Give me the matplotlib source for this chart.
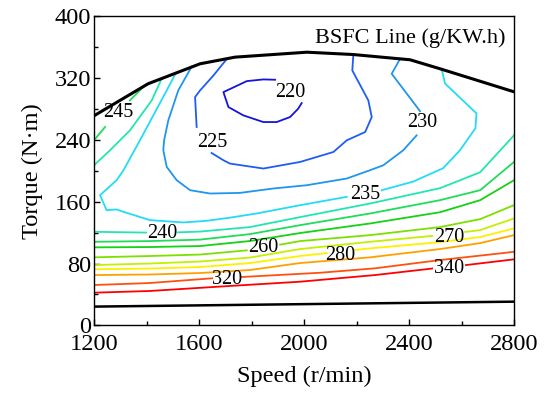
import numpy as np
import matplotlib
matplotlib.use("Agg")
import matplotlib.pyplot as plt

plt.rcParams['font.family'] = ['Liberation Serif', 'DejaVu Serif']
plt.rcParams['mathtext.fontset'] = 'stix'

nan = np.nan

# ---- data (speed in r/min, torque in N.m) ----
max_torque_speed = [1200, 1406, 1604, 1737, 2011, 2187, 2404, 2518, 2800]
max_torque = [271, 312.4, 338.2, 346.8, 353.2, 350.2, 343.4, 331.8, 302]

min_line_speed = [1200, 2800]
min_line_torque = [24.3, 30.7]

bsfc_levels = [220, 225, 230, 235, 240, 245, 250, 260, 270, 280, 300, 320, 340]

c220_s = [1890, 1845, 1782, 1693, 1712, 1769, 1845, 1896, 1947, 1978, 1991]
c220_t = [317.6, 318, 315.8, 301.6, 282.3, 271.5, 262.9, 262.9, 269.4, 280.2, 287.4]

c225_s = [1706, 1655, 1604, 1585, 1591, nan, 1648, 1693, 1718, 1845, 1985, 2112, 2163, 2233, 2258, 2245, 2184, 2188]
c225_t = [344.5, 323.1, 303.8, 295.2, 256.5, nan, 222.9, 213.5, 209.2, 202.8, 211.3, 224.2, 239.3, 250, 269.4, 290.9, 329.6, 350.2]

c230_s = [1572, 1521, 1483, 1467, 1464, 1477, 1515, 1566, 1642, 1756, 1883, 2010, 2163, 2252, 2302, 2378, 2429, nan, 2442, 2334, 2366]
c230_t = [334.5, 303.8, 265.1, 239.3, 226.4, 204.9, 187.7, 174.8, 170.5, 171.3, 177, 181.2, 189.9, 200.7, 207, 226.4, 245.7, nan, 277, 325.3, 344.6]

c235_s = [1512, 1477, 1375, 1312, 1286, 1223, 1248, 1286, 1312, 1413, 1540, 1629, 1718, 1820, 1985, 2163, nan, 2296, 2415, 2530, 2594, 2653, 2657, 2537, 2525]
c235_t = [326.5, 303.8, 239.3, 200.4, 187.7, 168.3, 149.0, 149.9, 146.9, 136.1, 133.1, 135.2, 139.3, 144.7, 155.4, 166.2, nan, 174.8, 185.8, 203.2, 226.4, 254.8, 274.1, 312.8, 330.5]

c240a_s = [1458, 1420, 1337, 1261, 1200]
c240a_t = [319.2, 290.9, 252.2, 226.4, 207]
c240_s = [1200, 1398, nan, 1520, 1604, 1794, 1985, 2252, 2518, 2671, 2800]
c240_t = [121.0, 120.0, nan, 120.3, 121.3, 127.1, 140.0, 157.6, 177.4, 198.0, 245.7]

c245a_s = [1394, 1337, nan, 1242, 1200]
c245a_t = [310.5, 290.9, nan, 256.5, 239.3]
c245_s = [1200, 1413, 1604, 1794, 1985, 2252, 2518, 2671, 2800]
c245_t = [108.1, 109.0, 110.9, 118.0, 129.6, 144.7, 161.9, 174.8, 211.3]

c250_s = [1200, 1413, 1604, 1794, 1985, 2252, 2518, 2671, 2800]
c250_t = [100.9, 101.3, 102.6, 109.1, 119.4, 131.8, 146.3, 161.9, 187.7]

c260_s = [1200, 1413, 1604, 1782, nan, 1909, 1985, 2252, 2518, 2671, 2800]
c260_t = [88.0, 89.7, 91.6, 97.0, nan, 104.4, 109.0, 116.7, 127.1, 137.4, 155.5]

c270_s = [1200, 1413, 1604, 1794, 1985, 2252, 2488, nan, 2614, 2671, 2800]
c270_t = [78.0, 80.0, 82.6, 87.7, 98.7, 108.1, 115.7, nan, 120.8, 123.2, 138.3]

c280_s = [1200, 1413, 1604, 1794, 1985, 2087, nan, 2195, 2252, 2518, 2671, 2800]
c280_t = [72.5, 73.5, 75.5, 80.6, 89.7, 93.5, nan, 97.5, 99.6, 107.7, 114.2, 125.4]

c300_s = [1200, 1413, 1604, 1794, 1985, 2252, 2518, 2671, 2800]
c300_t = [65.1, 65.8, 67.7, 71.6, 80.6, 88.0, 98.7, 106.4, 116.7]

c320_s = [1200, 1413, 1650, nan, 1764, 2063, 2271, 2518, 2758, 2800]
c320_t = [52.2, 54.8, 60.9, nan, 62.6, 68.1, 73.8, 84.5, 93.5, 95.2]

c340_s = [1200, 1413, 1718, 1985, 2271, 2488, nan, 2617, 2800]
c340_t = [42.3, 44.5, 51.0, 56.5, 65.1, 73.5, nan, 78.0, 85.4]

label_text = ["220", "225", "230", "235", "240", "245", "260", "270", "280", "320", "340"]
label_speed = [1947, 1650, 2450, 2232, 1459, 1291, 1844, 2553, 2137, 1707, 2553]
label_torque = [301.6, 236.7, 262.5, 169.6, 119.3, 275.4, 101.3, 114.2, 90.9, 58.7, 74.2]

x_ticks = [1200, 1600, 2000, 2400, 2800]
y_ticks = [0, 80, 160, 240, 320, 400]

# ---- styles ----
level_colors = {
    220: '#1414dc', 225: '#1f5cf5', 230: '#1f96ee', 235: '#22dcf5',
    240: '#22e6b0', 245: '#20dc5a', 250: '#14d214', 260: '#7ce000',
    270: '#c4f000', 280: '#fff000', 300: '#ffa000', 320: '#ff5010',
    340: '#ff0000',
}

contours = [
    (220, c220_s, c220_t), (225, c225_s, c225_t), (230, c230_s, c230_t),
    (235, c235_s, c235_t), (240, c240a_s, c240a_t), (240, c240_s, c240_t),
    (245, c245a_s, c245a_t), (245, c245_s, c245_t), (250, c250_s, c250_t),
    (260, c260_s, c260_t), (270, c270_s, c270_t), (280, c280_s, c280_t),
    (300, c300_s, c300_t), (320, c320_s, c320_t), (340, c340_s, c340_t),
]

fig = plt.figure(figsize=(5.53, 3.93), dpi=100)
ax = fig.add_axes([0.170, 0.172, 0.7595, 0.7873])

for lev, s, t in contours:
    ax.plot(s, t, color=level_colors[lev], lw=1.3, solid_joinstyle='round', zorder=2)

ax.plot(max_torque_speed, max_torque, color='black', lw=2.2, zorder=3)
ax.plot(min_line_speed, min_line_torque, color='black', lw=1.8, zorder=3)

for txt, s, t in zip(label_text, label_speed, label_torque):
    ax.text(s, t, txt, ha='center', va='center', fontsize=14.5, color='black', zorder=4)

ax.text(0.979, 0.929, "BSFC Line (g/KW.h)", transform=ax.transAxes,
        ha='right', va='center', fontsize=16)

ax.set_xlim(1200, 2800)
ax.set_ylim(0, 400)
ax.set_xticks(x_ticks)
ax.set_yticks(y_ticks)
ax.set_xticks([1400, 1800, 2200, 2600], minor=True)
ax.set_yticks([40, 120, 200, 280, 360], minor=True)
ax.tick_params(axis='both', which='both', direction='in', top=False, right=False,
               labelsize=17.6, width=1.0)
ax.tick_params(axis='both', which='major', length=4)
ax.tick_params(axis='both', which='minor', length=3)
ax.tick_params(axis='x', pad=6)
ax.tick_params(axis='y', pad=2)
for sp in ax.spines.values():
    sp.set_linewidth(1.0)

ax.set_xlabel("Speed (r/min)", fontsize=17.6, labelpad=8)
ax.set_ylabel("Torque (N·m)", fontsize=17.6, labelpad=8)

fig.savefig("out.png", dpi=100)
